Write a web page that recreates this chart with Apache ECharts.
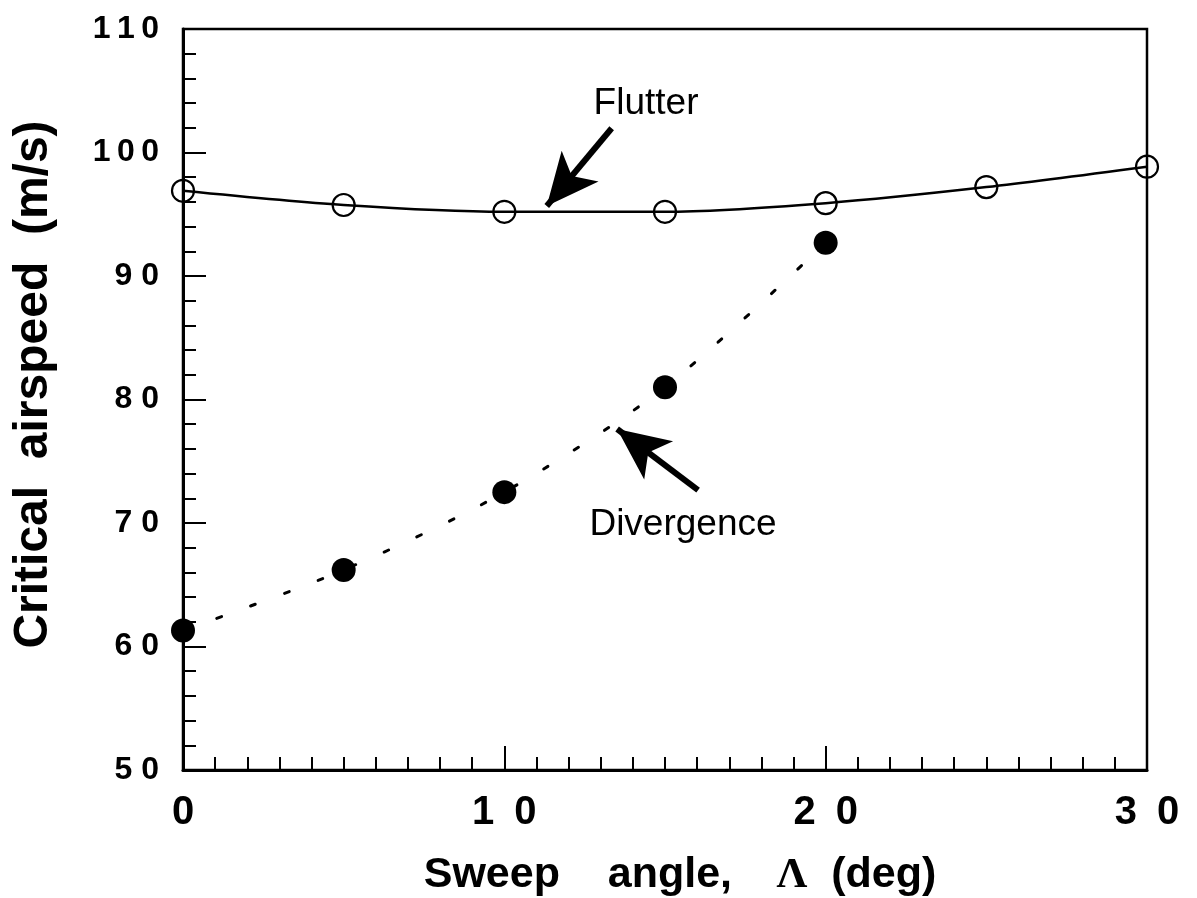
<!DOCTYPE html>
<html><head><meta charset="utf-8">
<script src="https://cdn.jsdelivr.net/npm/echarts@6/dist/echarts.min.js"></script>
<style>html,body{margin:0;padding:0;background:#fff}#c{width:1197px;height:898px}</style>
</head><body><div id="c"></div>
<script>
// ---- data ----
const flutterAngle = [0, 5, 10, 15, 20, 25, 30];
const flutterSpeed = [96.9, 95.75, 95.2, 95.2, 95.9, 97.2, 98.85];
const divergenceAngle = [0, 5, 10, 15, 20];
const divergenceSpeed = [61.3, 66.2, 72.5, 81.0, 92.7];
const xTickLabels = {0: '0', 10: '1\u20020', 20: '2\u20020', 30: '3\u20020'};
const yTickLabels = {50: '5 0', 60: '6 0', 70: '7 0', 80: '8 0', 90: '9 0', 100: '1\u20090\u20090', 110: '1\u20091\u20090'};
const annotationNames = ['Flutter', 'Divergence'];
const annotationPos = [[14.41, 103.93], [15.56, 69.84]];
const flutterArrow = [[13.34, 101.96], [11.32, 95.67]];
const divergenceArrow = [[16.03, 72.67], [13.51, 77.61]];

const pair = (xs, ys) => xs.map((x, i) => [x, ys[i]]);
const FONT = 'Liberation Sans, Arial, Helvetica, sans-serif';

const chart = echarts.init(document.getElementById('c'));
const axisCommon = {
  axisLine: {show: true, lineStyle: {color: '#000', width: 3}},
  splitLine: {show: false},
  minorSplitLine: {show: false}
};
chart.setOption({
  animation: false,
  backgroundColor: '#fff',
  grid: {left: 183, right: 50, top: 29, bottom: 128, outerBoundsMode: 'none', containLabel: false,
    show: true, borderColor: '#000', borderWidth: 2.5, backgroundColor: 'transparent'},
  xAxis: Object.assign({
    type: 'value', min: 0, max: 30, interval: 10,
    axisTick: {show: true, inside: true, length: 24, lineStyle: {color: '#000', width: 2}},
    minorTick: {show: true, splitNumber: 10, length: 13, lineStyle: {color: '#000', width: 2}},
    axisLabel: {margin: 23, fontSize: 40, fontWeight: 'bold', color: '#000', fontFamily: FONT,
      formatter: v => xTickLabels[v] !== undefined ? xTickLabels[v] : ''},
    name: 'Sweep    angle,   \u2009{l|\u039B}  (deg)',
    nameLocation: 'middle', nameGap: 84,
    nameTextStyle: {fontSize: 43, fontWeight: 'bold', color: '#000', fontFamily: FONT, padding: [0, 0, 0, 30],
      rich: {l: {fontSize: 43, fontWeight: 'bold', color: '#000', fontFamily: 'Liberation Serif, Times New Roman, serif'}}}
  }, axisCommon),
  yAxis: Object.assign({
    type: 'value', min: 50, max: 110, interval: 10,
    axisTick: {show: true, inside: true, length: 23, lineStyle: {color: '#000', width: 2}},
    minorTick: {show: true, splitNumber: 5, length: 13, lineStyle: {color: '#000', width: 2}},
    axisLabel: {margin: 24, fontSize: 32, fontWeight: 'bold', color: '#000', fontFamily: FONT,
      formatter: v => yTickLabels[v] !== undefined ? yTickLabels[v] : ''},
    name: 'Critical  airspeed  (m/s)',
    nameLocation: 'middle', nameGap: 125,
    nameTextStyle: {fontSize: 48, fontWeight: 'bold', color: '#000', fontFamily: FONT, padding: [0, 0, 0, 30]}
  }, axisCommon),
  series: [
    {
      name: 'Flutter', type: 'line', data: pair(flutterAngle, flutterSpeed), smooth: 0.3,
      symbol: 'circle', symbolSize: 22,
      itemStyle: {color: 'rgba(0,0,0,0)', borderColor: '#000', borderWidth: 2.2},
      lineStyle: {color: '#000', width: 2.5},
      z: 3,
      markPoint: {
        symbol: 'circle', symbolSize: 1, itemStyle: {color: 'rgba(0,0,0,0)'},
        label: {show: true, position: 'inside', formatter: '{b}', fontSize: 37, color: '#000', fontFamily: FONT},
        data: annotationNames.map((n, i) => ({name: n, coord: annotationPos[i]}))
      },
      markLine: {
        silent: true, symbol: ['none', 'arrow'], symbolSize: [36, 52],
        label: {show: false},
        lineStyle: {color: '#000', width: 6, type: 'solid'},
        itemStyle: {color: '#000'},
        data: [
          [{coord: flutterArrow[0]}, {coord: flutterArrow[1]}],
          [{coord: divergenceArrow[0]}, {coord: divergenceArrow[1]}]
        ]
      }
    },
    {
      name: 'Divergence', type: 'line', data: pair(divergenceAngle, divergenceSpeed), smooth: 0.3,
      symbol: 'circle', symbolSize: 24,
      itemStyle: {color: '#000'},
      lineStyle: {color: '#000', width: 3, type: [5, 31], cap: 'round'},
      z: 3
    }
  ]
});
</script></body></html>
